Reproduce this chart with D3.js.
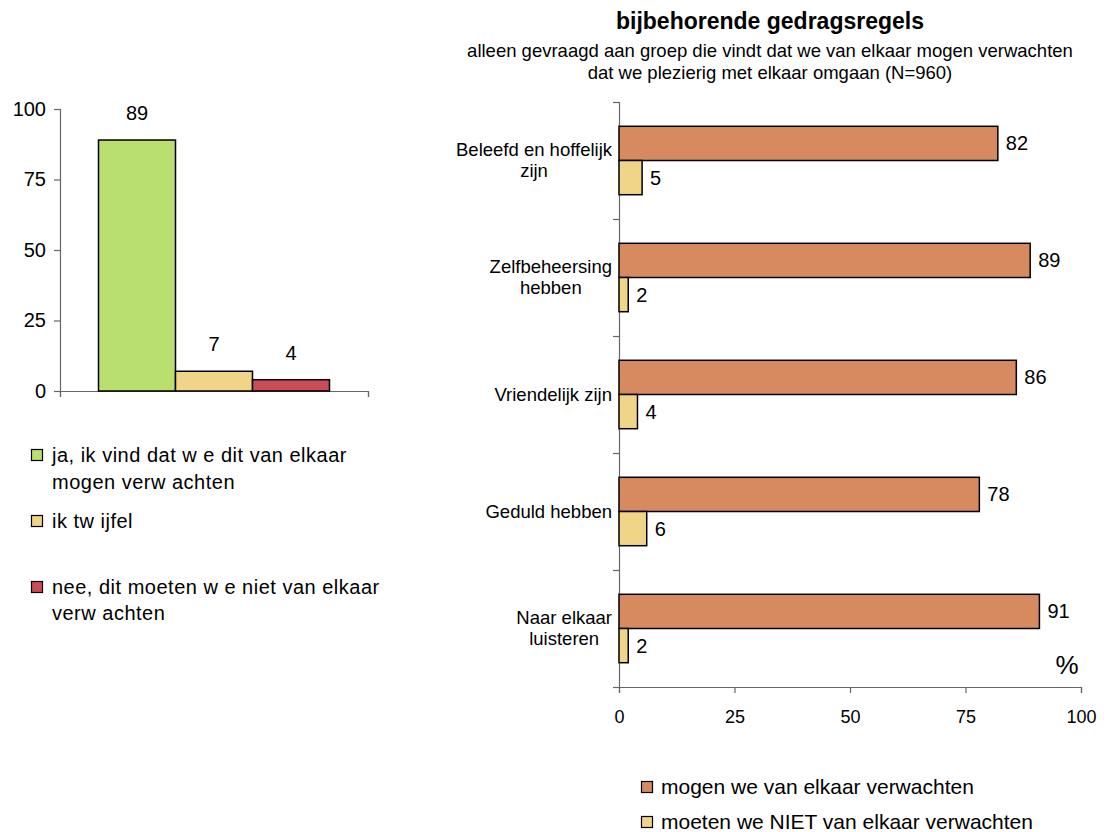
<!DOCTYPE html>
<html>
<head>
<meta charset="utf-8">
<script src="https://cdn.jsdelivr.net/npm/d3@7"></script>
<style>
  body { margin: 0; background: #fff; }
  svg text { font-family: "Liberation Sans", Arial, sans-serif; fill: #000; }
</style>
</head>
<body>
<div id="chart"></div>
<script>
// left chart: answer shares
var answers = ["ja", "twijfel", "nee"];
var answerValues = [89, 7, 4];
var answerLegend = [
  ["ja, ik vind dat w e dit van elkaar", "mogen verw achten"],
  ["ik tw ijfel"],
  ["nee, dit moeten w e niet van elkaar", "verw achten"]
];
var answerColors = ["#b9e06f", "#f0d487", "#c94c57"];

// right chart: behaviour rules
var rules = ["Beleefd en hoffelijk zijn", "Zelfbeheersing hebben", "Vriendelijk zijn", "Geduld hebben", "Naar elkaar luisteren"];
var ruleLines = [["Beleefd en hoffelijk", "zijn"], ["Zelfbeheersing", "hebben"], ["Vriendelijk zijn"], ["Geduld hebben"], ["Naar elkaar", "luisteren"]];
var series = ["mogen we van elkaar verwachten", "moeten we NIET van elkaar verwachten"];
var mogen = [82, 89, 86, 78, 91];
var nietMoeten = [5, 2, 4, 6, 2];
var seriesColors = ["#d78a5f", "#f0d487"];
var xTicks = [0, 25, 50, 75, 100];

var svg = d3.select("#chart").append("svg")
    .attr("width", 1106)
    .attr("height", 832);

var axisColor = "#666";

// ---------- left chart ----------
var left = { x: 60, y: 109, w: 308, h: 282 };
var lg = svg.append("g").attr("transform", `translate(${left.x},${left.y})`);

var yL = d3.scaleLinear().domain([0, 100]).range([left.h, 0]);
var xGroup = d3.scaleBand().domain(["all"]).range([0, left.w]).paddingInner(0).paddingOuter(0.1667);
var xInner = d3.scaleBand().domain(answers).range([0, xGroup.bandwidth()]);

var yAxisL = lg.append("g")
    .call(d3.axisLeft(yL).tickValues(xTicks).tickSize(6).tickPadding(8));
yAxisL.selectAll("text").style("font-size", "20px");

var xAxisL = lg.append("g")
    .attr("transform", `translate(0,${left.h})`)
    .call(d3.axisBottom(d3.scaleLinear().domain([0, 1]).range([0, left.w])).tickValues([0, 1]).tickSize(6).tickFormat(""));

[yAxisL, xAxisL].forEach(function(a) {
  a.select(".domain").attr("stroke", axisColor).attr("stroke-width", 1.2);
  a.selectAll(".tick line").attr("stroke", axisColor).attr("stroke-width", 1.2);
});

var leftData = answers.map(function(a, i) { return { key: a, value: answerValues[i], color: answerColors[i] }; });

lg.selectAll("rect.bar")
  .data(leftData)
  .enter()
  .append("rect")
    .attr("class", "bar")
    .attr("x", d => xGroup("all") + xInner(d.key))
    .attr("y", d => yL(d.value))
    .attr("width", xInner.bandwidth())
    .attr("height", d => yL(0) - yL(d.value))
    .attr("fill", d => d.color)
    .attr("stroke", "#000")
    .attr("stroke-width", 1.5);

lg.selectAll("text.val")
  .data(leftData)
  .enter()
  .append("text")
    .attr("class", "val")
    .attr("x", d => xGroup("all") + xInner(d.key) + xInner.bandwidth() / 2)
    .attr("y", d => yL(d.value) - 20)
    .attr("text-anchor", "middle")
    .style("font-size", "20px")
    .text(d => d.value);

// left legend
var legendLineY = [[455, 482], [521], [587, 613]];
var legL = svg.append("g");
answerLegend.forEach(function(lines, i) {
  legL.append("rect")
    .attr("x", 31.5).attr("y", legendLineY[i][0] - 5.5)
    .attr("width", 11).attr("height", 11)
    .attr("fill", answerColors[i]).attr("stroke", "#000").attr("stroke-width", 1.2);
  lines.forEach(function(t, j) {
    legL.append("text")
      .attr("x", 52).attr("y", legendLineY[i][j])
      .attr("dy", "0.35em")
      .style("font-size", "20px")
      .style("letter-spacing", "0.5px")
      .text(t);
  });
});

// ---------- right chart ----------
svg.append("text")
  .attr("x", 770).attr("y", 21).attr("dy", "0.35em")
  .attr("text-anchor", "middle")
  .style("font-size", "23px").style("font-weight", "bold")
  .text("bijbehorende gedragsregels");
svg.append("text")
  .attr("x", 770).attr("y", 51).attr("dy", "0.35em")
  .attr("text-anchor", "middle")
  .style("font-size", "18.5px")
  .text("alleen gevraagd aan groep die vindt dat we van elkaar mogen verwachten");
svg.append("text")
  .attr("x", 770).attr("y", 73).attr("dy", "0.35em")
  .attr("text-anchor", "middle")
  .style("font-size", "18.5px")
  .text("dat we plezierig met elkaar omgaan (N=960)");

var right = { x: 619, y: 102, w: 462, h: 585 };
var rg = svg.append("g").attr("transform", `translate(${right.x},${right.y})`);

var xR = d3.scaleLinear().domain([0, 100]).range([0, right.w]);
var yR = d3.scaleBand().domain(rules).range([0, right.h]).padding(0);
var yInner = d3.scaleBand().domain(series).range([0, yR.bandwidth()]).paddingOuter(0.71).paddingInner(0);

var xAxisR = rg.append("g")
    .attr("transform", `translate(0,${right.h})`)
    .call(d3.axisBottom(xR).tickValues(xTicks).tickSize(6).tickPadding(17));
xAxisR.selectAll("text").style("font-size", "18px");

var yAxisR = rg.append("g")
    .call(d3.axisLeft(d3.scaleLinear().domain([0, rules.length]).range([0, right.h]))
      .tickValues(d3.range(rules.length + 1)).tickSize(6).tickFormat(""));

[xAxisR, yAxisR].forEach(function(a) {
  a.select(".domain").attr("stroke", axisColor).attr("stroke-width", 1.2);
  a.selectAll(".tick line").attr("stroke", axisColor).attr("stroke-width", 1.2);
});

var rightData = [];
rules.forEach(function(r, i) {
  rightData.push({ rule: r, s: series[0], value: mogen[i], color: seriesColors[0] });
  rightData.push({ rule: r, s: series[1], value: nietMoeten[i], color: seriesColors[1] });
});

rg.selectAll("rect.bar")
  .data(rightData)
  .enter()
  .append("rect")
    .attr("class", "bar")
    .attr("x", xR(0))
    .attr("y", d => yR(d.rule) + yInner(d.s))
    .attr("width", d => xR(d.value) - xR(0))
    .attr("height", yInner.bandwidth())
    .attr("fill", d => d.color)
    .attr("stroke", "#000")
    .attr("stroke-width", 1.5);

rg.selectAll("text.val")
  .data(rightData)
  .enter()
  .append("text")
    .attr("class", "val")
    .attr("x", d => xR(d.value) + 8)
    .attr("y", d => yR(d.rule) + yInner(d.s) + yInner.bandwidth() / 2)
    .attr("dy", "0.35em")
    .style("font-size", "20px")
    .text(d => d.value);

// category labels, centred block ending left of the axis
rules.forEach(function(r, i) {
  var lines = ruleLines[i];
  var g = rg.append("g");
  var mid = yR(r) + yR.bandwidth() / 2;
  var texts = lines.map(function(t, j) {
    return g.append("text")
      .attr("y", mid + (j - (lines.length - 1) / 2) * 21)
      .attr("dy", "0.35em")
      .attr("text-anchor", "middle")
      .style("font-size", "18.5px")
      .text(t);
  });
  var maxW = d3.max(texts, t => t.node().getComputedTextLength());
  texts.forEach(t => t.attr("x", -7 - maxW / 2));
});

rg.append("text")
  .attr("x", 448).attr("y", right.h - 22)
  .attr("dy", "0.35em")
  .attr("text-anchor", "middle")
  .style("font-size", "26px")
  .text("%");

// right legend
var legR = svg.append("g");
series.forEach(function(s, i) {
  var cy = 787 + i * 35;
  legR.append("rect")
    .attr("x", 641.5).attr("y", cy - 5.5)
    .attr("width", 11).attr("height", 11)
    .attr("fill", seriesColors[i]).attr("stroke", "#000").attr("stroke-width", 1.2);
  legR.append("text")
    .attr("x", 661).attr("y", cy).attr("dy", "0.35em")
    .style("font-size", "21px")
    .text(s);
});
</script>
</body>
</html>
